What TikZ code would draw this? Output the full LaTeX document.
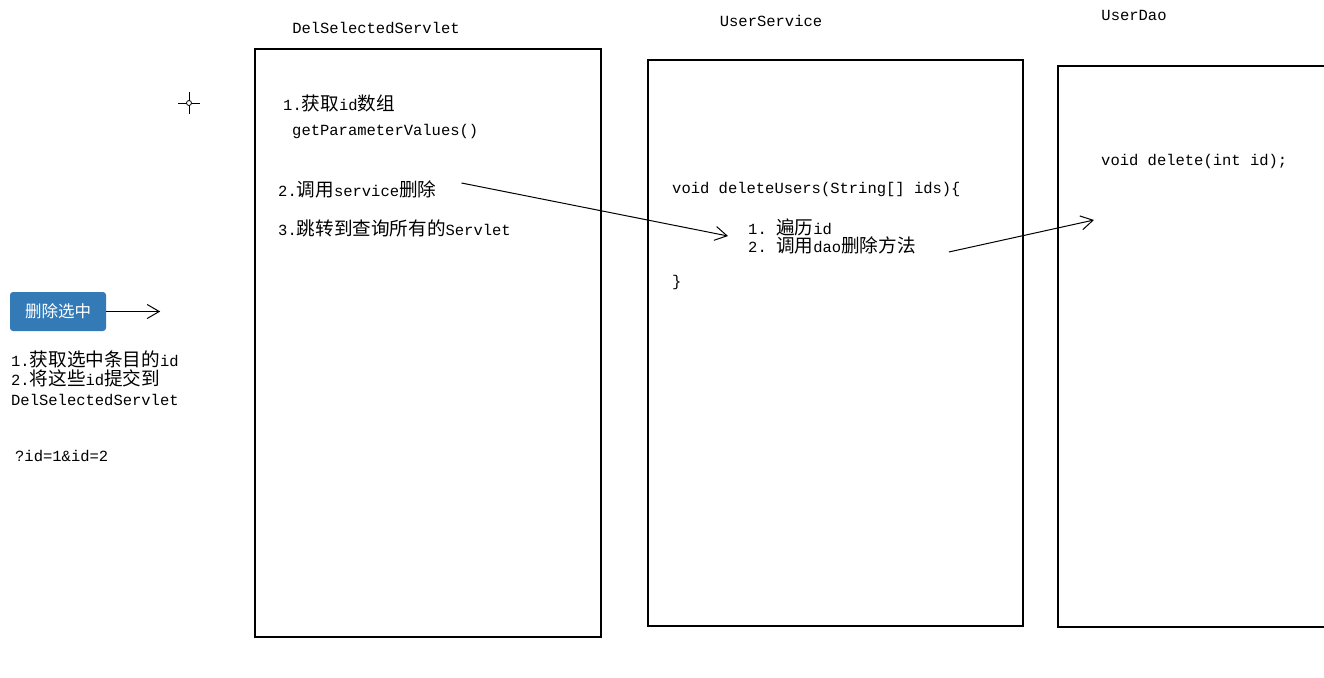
\documentclass[tikz,border=0pt]{standalone}
\usepackage{fontspec}
\setmainfont{Liberation Mono}
\newfontfamily\cjk[Scale=1.2]{Noto Sans CJK SC}
\newfontfamily\cjkbtn{Noto Sans CJK SC}
\usetikzlibrary{arrows.meta,positioning}
\definecolor{btnblue}{HTML}{337AB7}

\begin{document}
\begin{tikzpicture}[x=1pt,y=-1pt,
  every node/.style={inner sep=0pt, text=black,
    font=\fontsize{15.5}{19.5}\selectfont},
  box/.style={draw, line width=1.2pt},
  lbl/.style={anchor=west},
  flow/.style={line width=1pt, -{Straight Barb[length=12pt,width=14pt]}}]
  \useasboundingbox (0,0) rectangle (1324,677);
  \clip (0,0) rectangle (1324,677);
  % the three layers
  \node[box, minimum width=346pt, minimum height=588pt] (servlet) at (428,343) {};
  \node[box, minimum width=375pt, minimum height=566pt] (service) at (835.5,343) {};
  \node[box, minimum width=300pt, minimum height=561pt] (dao) at (1208,346.5) {};
  \node (servletT) at (376,28) {DelSelectedServlet};
  \node (serviceT) at (771,21) {UserService};
  \node (daoT) at (1134,15) {UserDao};
  % servlet
  \node[lbl] (getIds) at (283,103) {1.{\cjk 获取}id{\cjk 数组}};
  \node[lbl] (getVals) at (292,131) {getParameterValues()};
  \node[lbl] (callSvc) at (278,189) {2.{\cjk 调用}service{\cjk 删除}};
  \node[lbl] (fwd) at (278,228) {3.{\cjk 跳转到查询所有的}Servlet};
  % service
  \node[lbl] (delUsers) at (672,189) {void deleteUsers(String[] ids)\{};
  \node[lbl] (loop) at (748,227) {1.\ {\cjk 遍历}id};
  \node[lbl] (callDao) at (748,245) {2.\ {\cjk 调用}dao{\cjk 删除方法}};
  \node[lbl] (close) at (672,282) {\}};
  % dao
  \node[lbl] (delOne) at (1101,161) {void delete(int id);};
  \coordinate (daoIn) at (1094,220);
  % page side
  \node[fill=btnblue, rounded corners=3pt, minimum width=96pt, minimum height=39pt,
    text=white, font=\fontsize{16.5}{18}\cjkbtn] (btn) at (58,311.5) {删除选中};
  \coordinate (btnTip) at ([xshift=54pt]btn.east);
  \node[lbl, align=left] (steps) at (11,378)
    {1.{\cjk 获取选中条目的}id\\2.{\cjk 将这些}id{\cjk 提交到}\\DelSelectedServlet};
  \node[lbl] (query) at (15,456) {?id=1\&id=2};
  % arrows
  \draw[flow] (btn.east) -- (btnTip);
  \draw[flow] ([xshift=25pt,yshift=6pt]callSvc.east) -- ([xshift=-20pt,yshift=-9pt]loop.west);
  \draw[flow] ([xshift=33pt,yshift=-7pt]callDao.east) -- (daoIn);
  % mouse cursor
  \draw[line width=1pt] (178,103) -- (200,103) (189,92) -- (189,114);
  \draw[fill=white, line width=0.8pt] (189,103) circle (2.5pt);
\end{tikzpicture}
\end{document}
